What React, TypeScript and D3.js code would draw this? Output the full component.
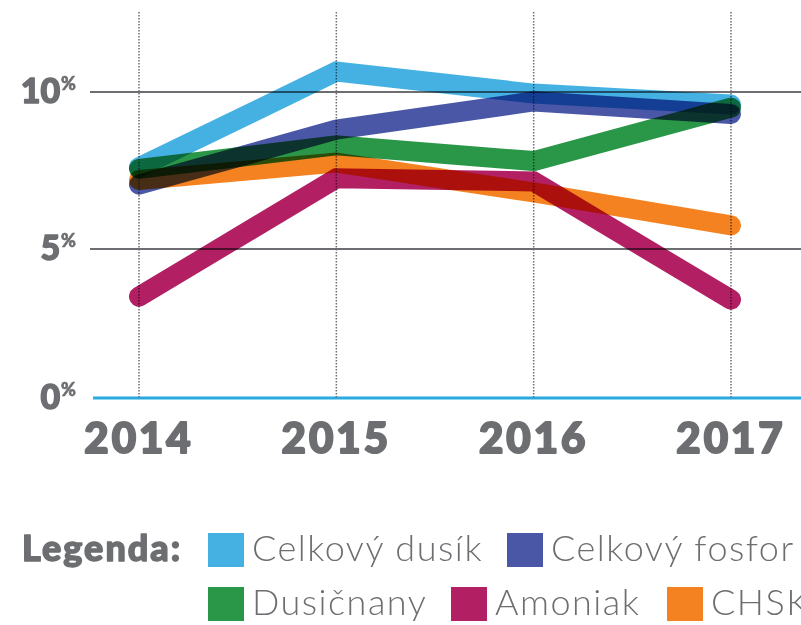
import React from 'react';
import * as d3 from 'd3';

const years = ['2014', '2015', '2016', '2017'];
const yTicks = [0, 5, 10];

const seriesNames = ['Celkový dusík', 'Celkový fosfor', 'Dusičnany', 'Amoniak', 'CHSK'];
const seriesColors = ['#45b1e3', '#4a57a6', '#2a9647', '#b21f62', '#f58220'];

const celkovyDusik = [7.6, 10.65, 9.95, 9.6];
const celkovyFosfor = [7.05, 8.8, 9.7, 9.3];
const dusicnany = [7.55, 8.3, 7.8, 9.5];
const amoniak = [3.4, 7.25, 7.15, 3.3];
const chsk = [7.2, 7.75, 6.8, 5.75];

const seriesValues = [celkovyDusik, celkovyFosfor, dusicnany, amoniak, chsk];

const W = 801;
const H = 625;
const gray = '#6d6e71';
const boldFont = "Lato, 'Open Sans', sans-serif";

export default function App() {
  const x = d3.scalePoint<string>().domain(years).range([139, 731]);
  // the source spaces 0-5 slightly tighter than 5-10
  const y = d3.scaleLinear().domain([0, 5, 10]).range([398, 249, 92]);

  const line = d3
    .line<number>()
    .x((_, i) => x(years[i]) as number)
    .y(d => y(d));

  // legend layout: two rows
  const legendRows = [
    [
      { i: 0, x: 208 },
      { i: 1, x: 507 },
    ],
    [
      { i: 2, x: 208 },
      { i: 3, x: 451 },
      { i: 4, x: 667 },
    ],
  ];
  const rowY = [550, 604];

  // heavier look for the bold labels
  const heavy = { stroke: gray, strokeWidth: 1.4, strokeLinejoin: 'round' as const };

  return (
    <>
      <style>{'body{margin:0;} svg{display:block;}'}</style>
      <svg width={W} height={H} viewBox={`0 0 ${W} ${H}`}>
        <rect width={W} height={H} fill="#fff" />

        {/* horizontal grid */}
        {yTicks.filter(t => t > 0).map(t => (
          <line key={t} x1={90} x2={W} y1={y(t)} y2={y(t)} stroke={gray} strokeWidth={2} />
        ))}
        <line x1={93} x2={W} y1={y(0)} y2={y(0)} stroke="#29aae1" strokeWidth={3} />

        {/* y labels */}
        {yTicks.map(t => (
          <text
            key={t}
            x={76}
            y={y(t) + 11}
            textAnchor="end"
            fill={gray}
            fontFamily={boldFont}
            fontWeight={900}
            fontSize={34}
            {...heavy}
          >
            {t}
            <tspan fontSize={18} dy={-13} dx={1} strokeWidth={0.6}>%</tspan>
          </text>
        ))}

        {/* dotted verticals */}
        {years.map(yr => (
          <line
            key={yr}
            x1={x(yr)}
            x2={x(yr)}
            y1={12}
            y2={y(0)}
            stroke={gray}
            strokeWidth={1.5}
            strokeDasharray="1.5 1.5"
          />
        ))}

        {/* series */}
        {seriesValues.map((vals, i) => (
          <path
            key={seriesNames[i]}
            d={line(vals) || ''}
            fill="none"
            stroke={seriesColors[i]}
            strokeWidth={20}
            strokeLinecap="round"
            strokeLinejoin="miter"
            style={{ mixBlendMode: 'multiply' }}
          />
        ))}

        {/* x labels */}
        {years.map(yr => (
          <text
            key={yr}
            x={x(yr)}
            y={453}
            textAnchor="middle"
            fill={gray}
            fontFamily={boldFont}
            fontWeight={900}
            fontSize={42}
            letterSpacing={3}
            {...heavy}
            strokeWidth={2}
          >
            {yr}
          </text>
        ))}

        {/* legend */}
        <text
          x={22}
          y={561}
          fill={gray}
          fontFamily={boldFont}
          fontWeight={900}
          fontSize={36}
          letterSpacing={2}
          {...heavy}
        >
          Legenda:
        </text>
        {legendRows.map((row, r) =>
          row.map(item => (
            <g key={item.i} transform={`translate(${item.x},${rowY[r]})`}>
              <rect x={0} y={-17} width={36} height={34} fill={seriesColors[item.i]} />
              <text
                x={44}
                y={11}
                fill={gray}
                fontFamily="Lato, 'Open Sans', sans-serif"
                fontWeight={300}
                fontSize={36}
                letterSpacing={1.5}
              >
                {seriesNames[item.i]}
              </text>
            </g>
          ))
        )}
      </svg>
    </>
  );
}
